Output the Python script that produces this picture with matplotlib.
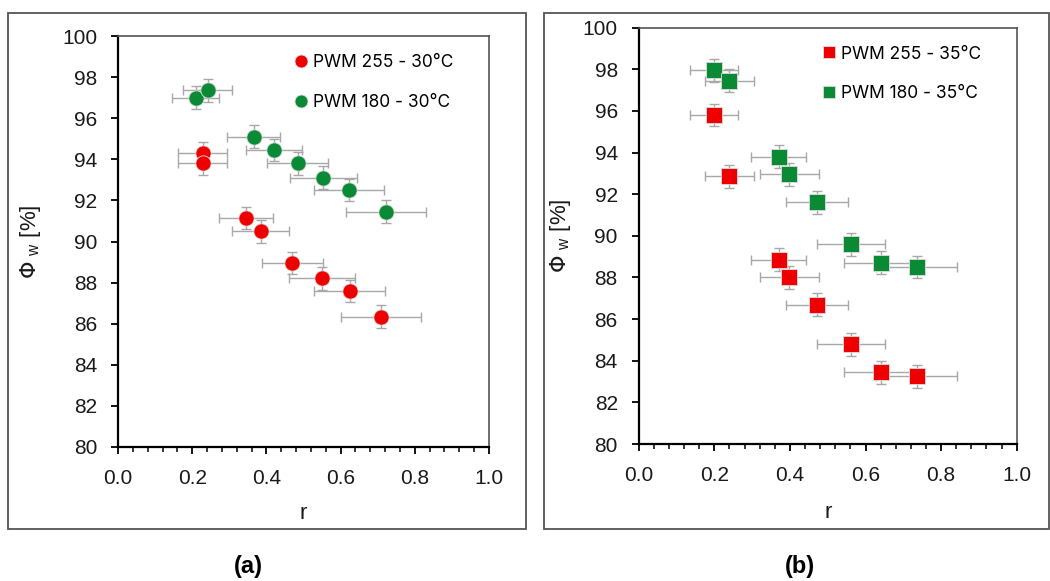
import matplotlib
matplotlib.use("Agg")
import matplotlib.pyplot as plt
from matplotlib.patches import Rectangle
from matplotlib.ticker import MultipleLocator, FormatStrFormatter

plt.rcParams["font.family"] = ["Liberation Sans", "DejaVu Sans"]

RED = "#ee0000"
GREEN = "#0a8a34"
ERR = "#a8a8a8"

# ---- panel (a): 30 °C, circles ----
a_labels = ["PWM 255 - 30°C", "PWM 180 - 30°C"]
a_r_255 = [0.228, 0.228, 0.345, 0.385, 0.470, 0.549, 0.624, 0.709]
a_phi_255 = [94.3, 93.8, 91.15, 90.5, 88.95, 88.2, 87.6, 86.35]
a_rerr_255 = [0.065, 0.065, 0.072, 0.077, 0.082, 0.089, 0.095, 0.108]
a_r_180 = [0.209, 0.242, 0.366, 0.421, 0.484, 0.553, 0.622, 0.722]
a_phi_180 = [97.0, 97.35, 95.1, 94.45, 93.8, 93.1, 92.5, 91.45]
a_rerr_180 = [0.064, 0.066, 0.072, 0.076, 0.082, 0.090, 0.095, 0.108]

# ---- panel (b): 35 °C, squares ----
b_labels = ["PWM 255 - 35°C", "PWM 180 - 35°C"]
b_r = [0.199, 0.240, 0.370, 0.398, 0.473, 0.562, 0.640, 0.735]
b_phi_255 = [95.8, 92.85, 88.85, 88.0, 86.7, 84.8, 83.45, 83.25]
b_phi_180 = [97.95, 97.45, 93.8, 92.95, 91.6, 89.6, 88.7, 88.5]
b_rerr = [0.064, 0.065, 0.072, 0.078, 0.082, 0.090, 0.096, 0.108]

PHI_ERR = 0.55

fig = plt.figure(figsize=(10.5, 5.81), dpi=100)

# panel frames
for x0, x1 in [(8, 526), (544, 1049)]:
    fig.patches.append(Rectangle((x0 / 1050, 1 - 529 / 581), (x1 - x0) / 1050, (529 - 13) / 581,
                                 transform=fig.transFigure, fill=False,
                                 edgecolor="#555555", linewidth=1.3, zorder=0))

ax_a = fig.add_axes([118 / 1050, 1 - 447 / 581, 371 / 1050, 411 / 581])
ax_b = fig.add_axes([638.7 / 1050, 1 - 444 / 581, 378 / 1050, 416.4 / 581])


def style_axes(ax, ylab_x, xlab_y):
    ax.set_xlim(0, 1)
    ax.set_ylim(80, 100)
    ax.xaxis.set_major_locator(MultipleLocator(0.2))
    ax.xaxis.set_minor_locator(MultipleLocator(0.04))
    ax.yaxis.set_major_locator(MultipleLocator(2))
    ax.xaxis.set_major_formatter(FormatStrFormatter("%.1f"))
    ax.tick_params(axis="both", which="major", direction="out", length=5, width=1.3,
                   labelsize=15, color="black", labelcolor="#1a1a1a")
    ax.tick_params(axis="x", which="major", pad=11)
    ax.tick_params(axis="y", which="major", pad=10)
    ax.tick_params(axis="x", which="minor", direction="out", length=3.5, width=1.1)
    for s in ["left", "bottom"]:
        ax.spines[s].set_linewidth(1.6)
        ax.spines[s].set_color("black")
    for s in ["top", "right"]:
        ax.spines[s].set_linewidth(1.2)
        ax.spines[s].set_color("#555555")
    ax.set_ylabel(r"$\Phi$ $_{\mathregular{w}}$ [%]", fontsize=16, color="#1a1a1a")
    ax.set_xlabel("r", fontsize=16, color="#1a1a1a")
    ax.yaxis.set_label_coords(ylab_x, 0.5)
    ax.xaxis.set_label_coords(0.5, xlab_y)


def series(ax, x, y, xerr, color, marker, ms, label):
    ax.errorbar(x, y, xerr=xerr, yerr=PHI_ERR, fmt="none", ecolor=ERR,
                elinewidth=1.0, capsize=3.5, capthick=1.0, zorder=2)
    ax.plot(x, y, linestyle="none", marker=marker, ms=ms, color=color,
            markeredgecolor="#dddddd", markeredgewidth=0.6, label=label, zorder=3)


series(ax_a, a_r_180, a_phi_180, a_rerr_180, GREEN, "o", 11, a_labels[1])
series(ax_a, a_r_255, a_phi_255, a_rerr_255, RED, "o", 11, a_labels[0])
series(ax_b, b_r, b_phi_180, b_rerr, GREEN, "s", 11, b_labels[1])
series(ax_b, b_r, b_phi_255, b_rerr, RED, "s", 11, b_labels[0])

style_axes(ax_a, -0.202, -0.137)
style_axes(ax_b, -0.174, -0.14)

for ax, anchor in [(ax_a, (0.474, 0.955)), (ax_b, (0.484, 0.957))]:
    h, l = ax.get_legend_handles_labels()
    ax.legend(h[::-1], l[::-1], loc="upper left", bbox_to_anchor=anchor,
              frameon=False, handlelength=0.8, handletextpad=0.3, borderpad=0,
              borderaxespad=0, labelspacing=1.3, markerscale=0.85,
              prop={"family": "Inter", "size": 12.5})

fig.text(248 / 1050, 1 - 566 / 581, "(a)", ha="center", va="center",
         fontsize=17, fontweight="bold")
fig.text(800 / 1050, 1 - 566 / 581, "(b)", ha="center", va="center",
         fontsize=17, fontweight="bold")

fig.savefig("out.png", dpi=100, facecolor="white")
